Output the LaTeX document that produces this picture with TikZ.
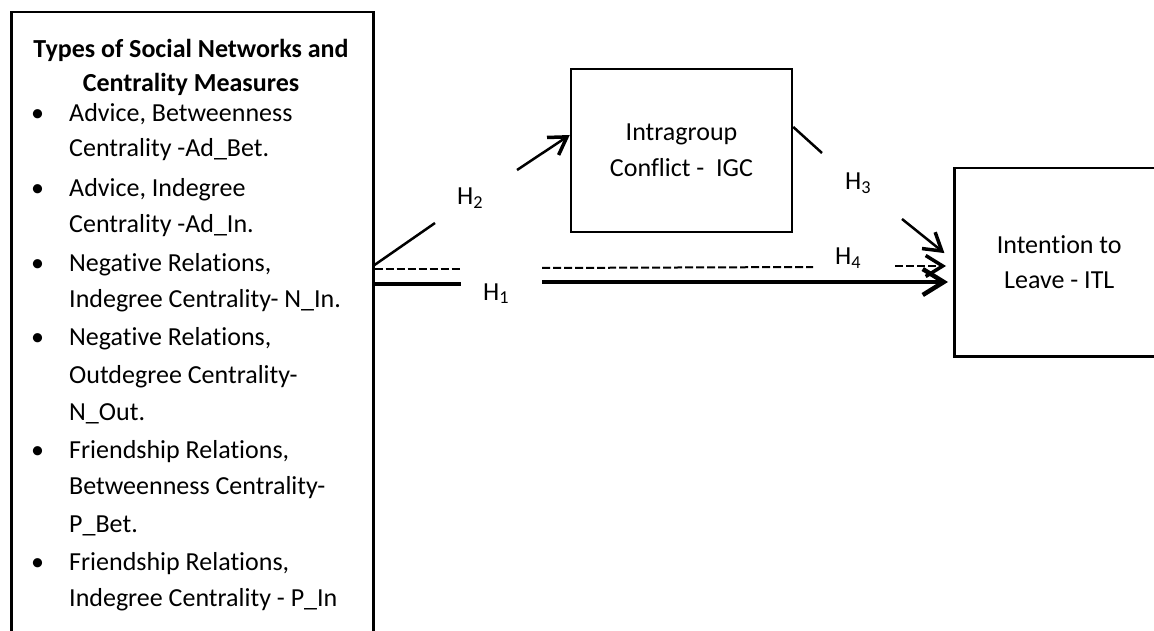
\documentclass[tikz,border=0pt]{standalone}
\usepackage{fontspec}
\setmainfont{Carlito}[Ligatures={CommonOff,ContextualOff}, RawFeature={-liga;-clig;-dlig}]
\usetikzlibrary{arrows.meta,positioning}

\tikzset{
  txt/.style={font=\fontsize{26}{36}\selectfont, inner sep=0pt},
  frame/.style={draw, line width=2.5pt, inner sep=0pt},
  boxtxt/.style={frame, align=center, font=\fontsize{26}{35.5}\selectfont},
  slim/.style={line width=2.5pt},
  heavy/.style={line width=4.5pt},
  dashy/.style={line width=2pt, dash pattern=on 8pt off 3pt},
  barb/.style={-{Straight Barb[length=17pt,width=21pt,line width=3.5pt]}},
  bigbarb/.style={-{Straight Barb[length=21pt,width=26pt,line width=4.5pt]}},
}

\begin{document}
\begin{tikzpicture}[x=1pt,y=-1pt]
\useasboundingbox (0,0) rectangle (1154,631);

% boxes
\node (lbox) [frame, anchor=north west, minimum width=362pt, minimum height=640pt] at (10,11) {};
\node (igc) [boxtxt, minimum width=221pt, minimum height=163pt] at (681.5,150.5) {Intragroup\\Conflict -\ \ IGC};
\node (itl) [boxtxt, minimum width=210pt, minimum height=188pt, anchor=north west] at (953,167) {Intention to\\Leave - ITL};

% text of the left box
\node (ttl1) [txt, font=\bfseries\fontsize{26}{36}\selectfont, anchor=base] at (191,58) {Types of Social Networks and};
\node (ttl2) [txt, font=\bfseries\fontsize{26}{36}\selectfont, anchor=base] at (191,92) {Centrality Measures};
\foreach \y/\t [count=\i] in {121.7/{Advice, Betweenness}, 156.7/{Centrality -Ad\_Bet.},
    196.7/{Advice, Indegree}, 232.7/{Centrality -Ad\_In.},
    271.7/{Negative Relations,}, 307/{Indegree Centrality- N\_In.},
    345/{Negative Relations,}, 383.3/{Outdegree Centrality-}, 420/{N\_Out.},
    458.3/{Friendship Relations,}, 494.3/{Betweenness Centrality-}, 532.7/{P\_Bet.},
    570/{Friendship Relations,}, 606/{Indegree Centrality - P\_In}}
  \node (ln\i) [txt, anchor=base west] at (69,\y) {\t};
\foreach \y [count=\i] in {121.7,196.7,271.7,345,458.3,570}
  \node (bl\i) [txt, anchor=base] at (37.5,\y) {\textbullet};

% H2
\coordinate (h2a) at (435,223);
\coordinate (h2b) at (517,170);
\draw[slim] (lbox.east |- 0,265) -- (h2a);
\draw[slim, barb] (h2b) -- (igc.west |- 0,135);
\node (h2) [txt, anchor=base west] at (457,205) {H\textsubscript{2}};

% H3
\coordinate (h3a) at (822,153);
\coordinate (h3b) at (902,219);
\draw[slim] (igc.east |- 0,127) -- (h3a);
\draw[slim, barb, shorten >=11pt] (h3b) -- (itl.west |- 0,260);
\node (h3) [txt, anchor=base west] at (845,190) {H\textsubscript{3}};

% H4
\coordinate (h4a) at (461,269);
\coordinate (h4b) at (542,268);
\coordinate (h4c) at (813,267);
\coordinate (h4d) at (895,266);
\draw[dashy] (lbox.east |- h4a) -- (h4a);
\draw[dashy] (h4b) -- (h4c);
\draw[dashy, barb, shorten >=7pt] (h4d) -- (itl.west |- h4d);
\node (h4) [txt, anchor=base west] at (835,265) {H\textsubscript{4}};

% H1
\coordinate (h1a) at (461,284);
\coordinate (h1b) at (542,282);
\draw[heavy] (lbox.east |- h1a) -- (h1a);
\draw[heavy, bigbarb, shorten >=5pt] (h1b) -- (itl.west |- h1b);
\node (h1) [txt, anchor=base west] at (483,300) {H\textsubscript{1}};
\end{tikzpicture}
\end{document}
